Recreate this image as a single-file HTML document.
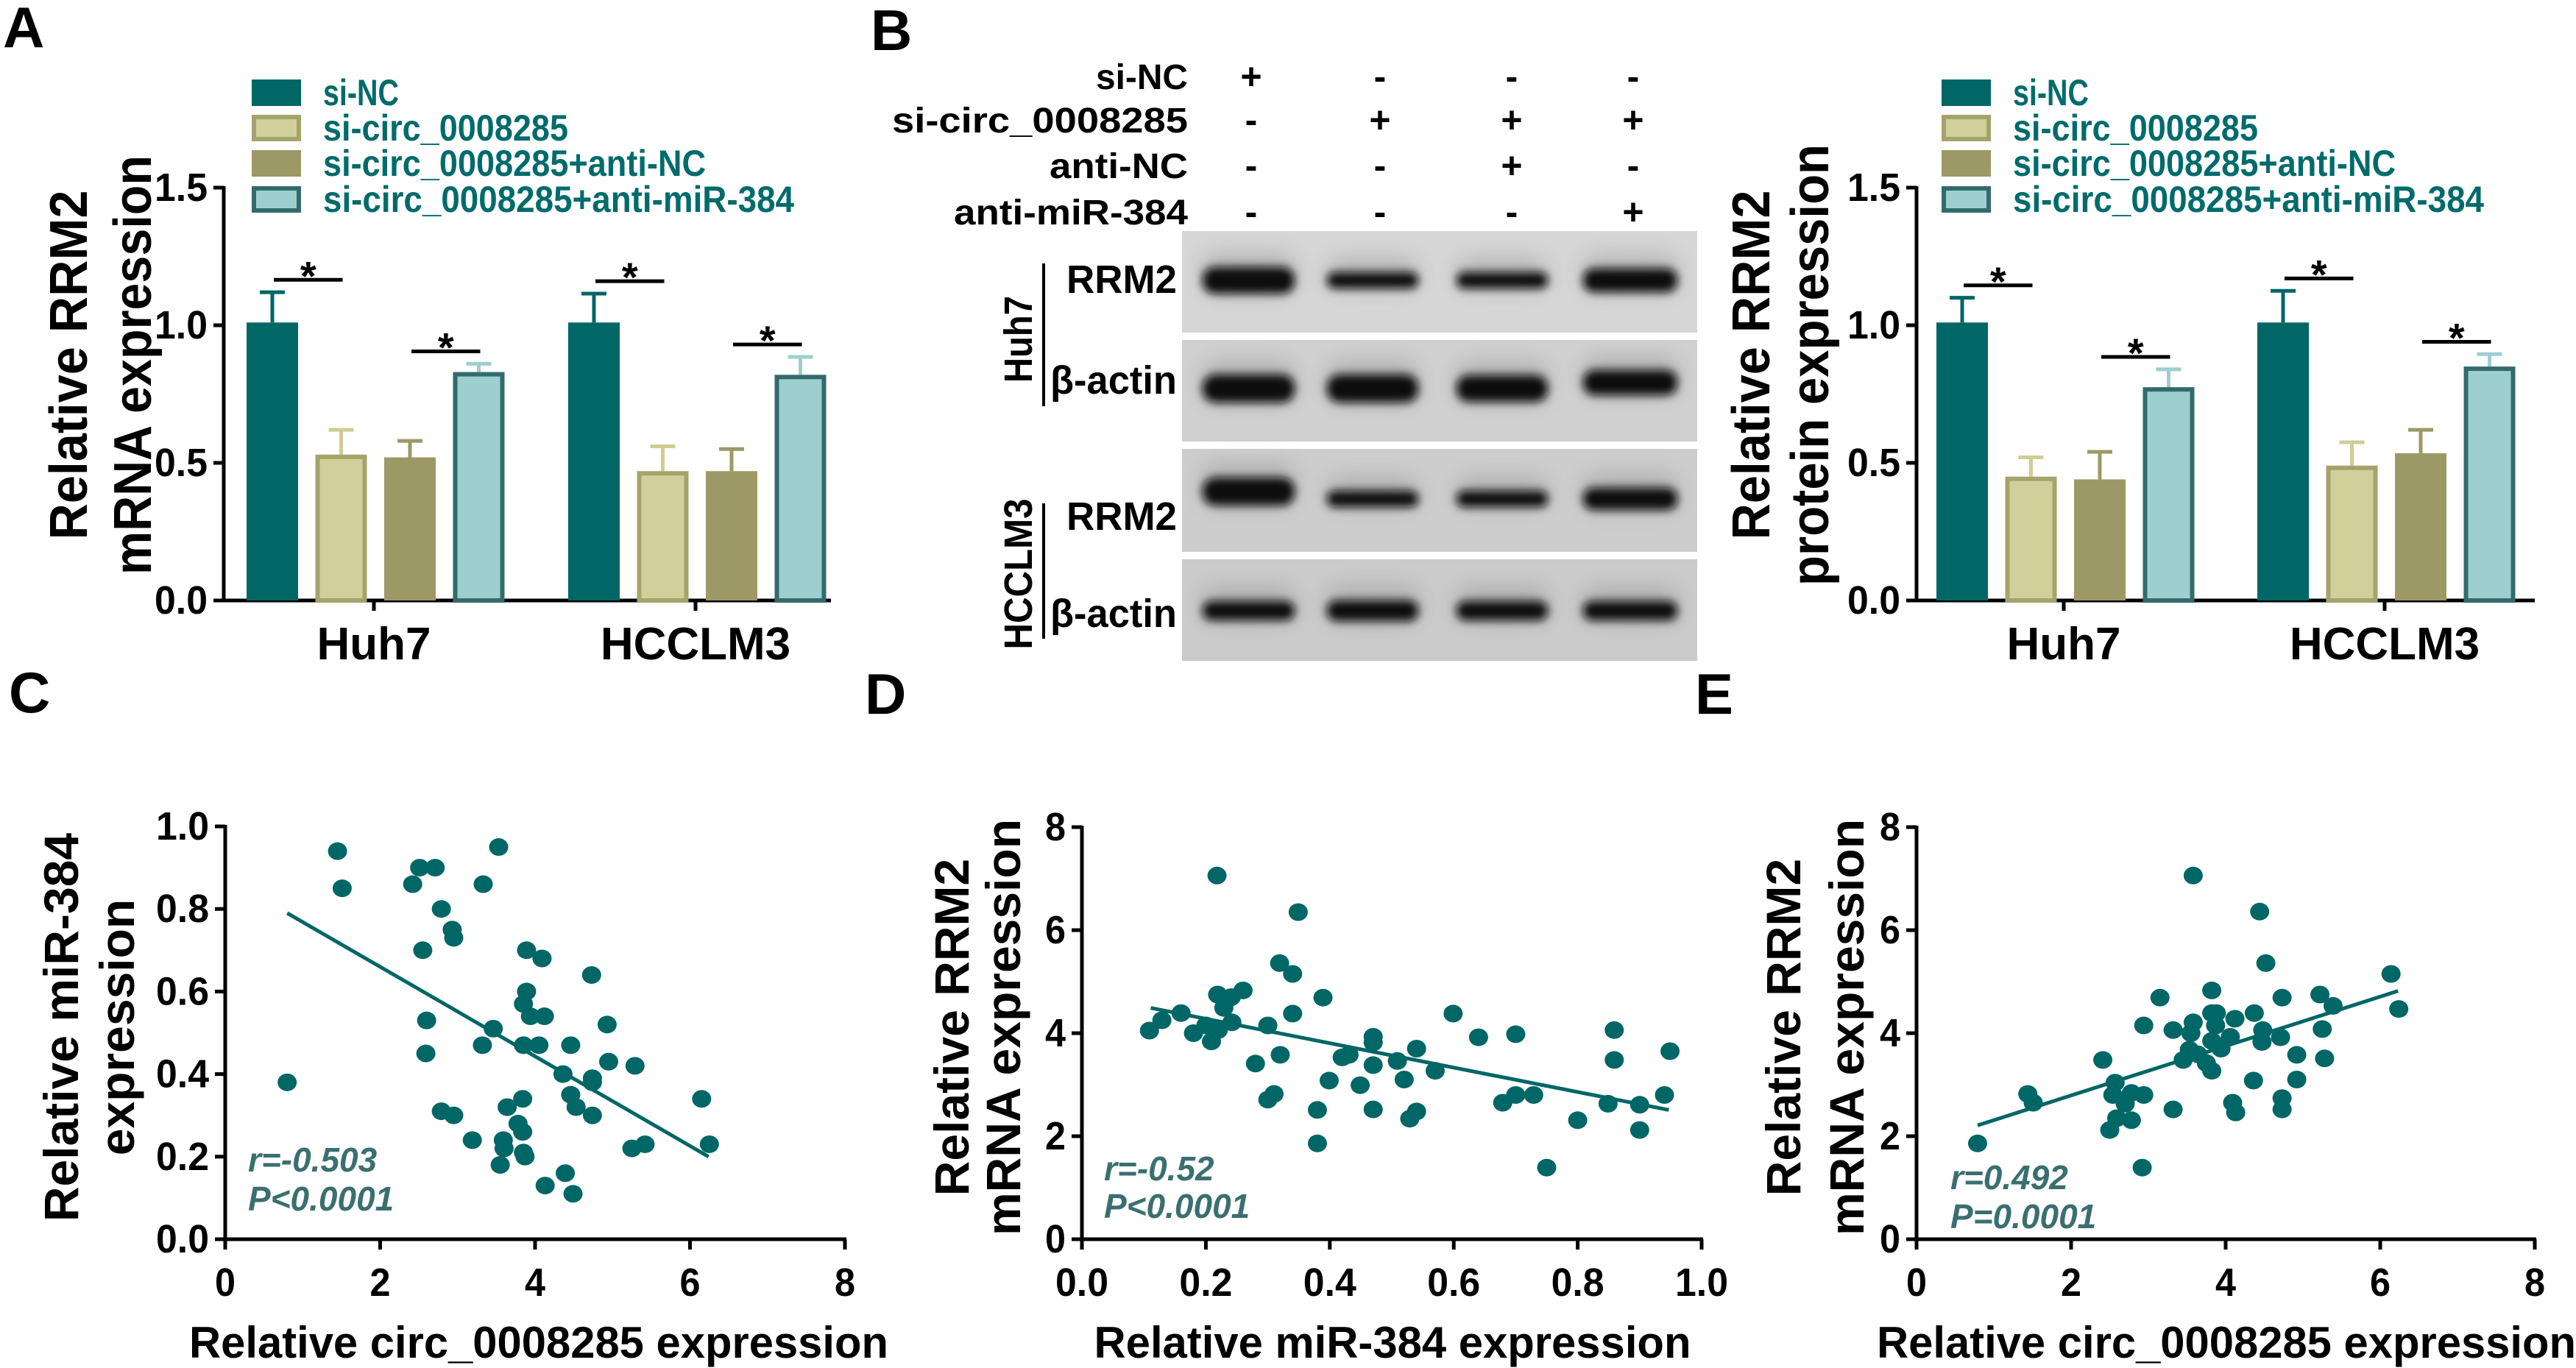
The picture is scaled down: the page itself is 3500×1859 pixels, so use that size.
<!DOCTYPE html>
<html><head><meta charset="utf-8"><style>
html,body{margin:0;padding:0;background:#fff;}
svg{display:block;font-family:"Liberation Sans",Arial,sans-serif;font-weight:bold;}
</style></head><body>
<svg id="fig" width="3500" height="1859" viewBox="0 0 3500 1859" xmlns="http://www.w3.org/2000/svg">
<defs>
<filter id="blur" x="-20%" y="-60%" width="140%" height="220%"><feGaussianBlur stdDeviation="6"/></filter>
<filter id="blur2" x="-20%" y="-100%" width="140%" height="300%"><feGaussianBlur stdDeviation="14"/></filter>
</defs>
<g id="panelA"></g>
<g id="panelB"></g>
<g id="panelB2"></g>
<g id="panelC"></g>
<g id="panelD"></g>
<g id="panelE"></g>
</svg>
<script>
// ---- bar chart data ----
const barCats = ['Huh7', 'HCCLM3'];
const seriesNames = ['si-NC', 'si-circ_0008285', 'si-circ_0008285+anti-NC', 'si-circ_0008285+anti-miR-384'];
const mrnaHuh7 = [1.01, 0.53, 0.52, 0.83];
const mrnaHCCLM3 = [1.01, 0.47, 0.47, 0.82];
const mrnaErrHuh7 = [0.11, 0.09, 0.06, 0.03];
const mrnaErrHCCLM3 = [0.105, 0.09, 0.08, 0.065];
const protHuh7 = [1.01, 0.45, 0.44, 0.775];
const protHCCLM3 = [1.01, 0.49, 0.535, 0.85];
const protErrHuh7 = [0.09, 0.07, 0.10, 0.065];
const protErrHCCLM3 = [0.115, 0.085, 0.085, 0.045];
const barTicks = [0, 0.5, 1.0, 1.5];
const barTickLabels = ['0.0', '0.5', '1.0', '1.5'];

// ---- scatter C: circ_0008285 vs miR-384 ----
const cX = [1.45,1.51,0.8,2.42,2.51,2.71,2.79,2.93,2.95,2.55,2.6,2.59,2.79,2.95,3.19,3.33,3.53,3.46,3.32,3.64,3.84,3.59,3.6,3.55,3.78,3.84,3.85,3.87,3.85,3.89,3.94,3.89,4.09,4.12,3.85,4.05,4.36,4.46,4.53,4.39,4.13,4.49,4.46,4.73,4.74,4.74,4.74,4.93,4.95,5.29,5.25,5.42,6.15,6.25];
const cY = [0.94,0.85,0.38,0.86,0.90,0.90,0.80,0.75,0.73,0.70,0.53,0.45,0.31,0.30,0.24,0.86,0.95,0.51,0.47,0.32,0.34,0.24,0.22,0.18,0.28,0.26,0.21,0.20,0.57,0.60,0.54,0.70,0.68,0.54,0.47,0.47,0.40,0.35,0.32,0.16,0.13,0.11,0.47,0.64,0.39,0.38,0.30,0.52,0.43,0.42,0.22,0.23,0.34,0.23];
const cFitX = [0.8, 6.24];
const cFitY = [0.79, 0.20];
const cXTicks = [0, 2, 4, 6, 8];
const cYTicks = [0, 0.2, 0.4, 0.6, 0.8, 1.0];
const cYTickLabels = ['0.0','0.2','0.4','0.6','0.8','1.0'];

// ---- scatter D: miR-384 vs RRM2 ----
const dX = [0.109,0.129,0.16,0.18,0.2,0.209,0.22,0.218,0.219,0.229,0.231,0.241,0.242,0.26,0.28,0.30,0.30,0.31,0.32,0.319,0.34,0.34,0.349,0.38,0.38,0.389,0.399,0.42,0.431,0.449,0.47,0.47,0.47,0.47,0.509,0.52,0.529,0.54,0.54,0.57,0.599,0.64,0.679,0.70,0.70,0.729,0.75,0.80,0.849,0.859,0.859,0.90,0.90,0.94,0.949];
const dY = [4.05,4.25,4.39,4.0,4.15,3.84,4.06,7.06,4.75,4.49,4.6,4.7,4.21,4.83,3.41,4.15,2.71,2.82,3.58,5.36,5.15,4.38,6.35,2.51,1.86,4.69,3.08,3.53,3.58,2.99,3.93,3.82,3.38,2.52,3.46,3.10,2.34,2.48,3.70,3.27,4.38,3.92,2.65,2.80,3.98,2.80,1.39,2.31,2.63,4.06,3.48,2.61,2.12,2.80,3.65];
const dFitX = [0.111, 0.947];
const dFitY = [4.49, 2.51];
const dXTicks = [0, 0.2, 0.4, 0.6, 0.8, 1.0];
const dXTickLabels = ['0.0','0.2','0.4','0.6','0.8','1.0'];
const dYTicks = [0, 2, 4, 6, 8];

// ---- scatter E: circ_0008285 vs RRM2 ----
const eX = [0.79,1.44,1.51,2.41,2.57,2.54,2.5,2.59,2.7,2.78,2.78,2.94,2.92,2.94,3.15,3.32,3.32,3.45,3.53,3.55,3.58,3.58,3.64,3.75,3.82,3.82,3.87,3.82,3.82,3.88,3.94,4.06,4.09,4.12,4.13,4.36,4.37,4.44,4.48,4.47,4.52,4.71,4.73,4.73,4.73,4.92,4.92,5.22,5.25,5.28,5.39,6.14,6.24];
const eY = [1.86,2.82,2.65,3.48,3.04,2.80,2.12,2.35,2.63,2.84,2.31,2.80,1.39,4.15,4.69,4.06,2.52,3.48,3.68,4.0,4.21,7.06,3.59,3.42,4.83,4.39,4.15,3.85,3.27,4.39,3.70,3.93,2.65,4.28,2.46,3.08,4.39,6.36,4.06,3.83,5.36,3.92,4.69,2.74,2.52,3.58,3.10,4.75,4.08,3.51,4.53,5.15,4.47];
const eFitX = [0.79, 6.23];
const eFitY = [2.21, 4.82];
const eXTicks = [0, 2, 4, 6, 8];
const eYTicks = [0, 2, 4, 6, 8];

const NS = 'http://www.w3.org/2000/svg';
const TEAL = '#006666';
function el(tag, attrs, parent) {
  const e = document.createElementNS(NS, tag);
  for (const k in attrs) e.setAttribute(k, attrs[k]);
  parent.appendChild(e);
  return e;
}
function txt(str, attrs, parent) {
  const t = el('text', attrs, parent);
  t.textContent = str;
  return t;
}

const fillCols = [TEAL, '#d1d09b', '#9c9966', '#9ecfcf'];
const strokeCols = [TEAL, '#a5a36a', '#9c9966', '#336b6b'];
const errCols = [TEAL, '#cfcd95', '#9c9966', '#9ecfcf'];

function barChart(g, o, vals, errs) {
  const sy = v => o.y0 - v / 1.5 * (o.y0 - o.yTop);
  seriesNames.forEach((n, i) => {
    const cy = o.legY[i];
    const r = el('rect', {x: o.legX + 3, y: cy - 15, width: 61, height: 30, fill: fillCols[i], stroke: strokeCols[i], 'stroke-width': i === 0 || i === 2 ? 0 : 6}, g);
    if (i === 0 || i === 2) { r.setAttribute('x', o.legX); r.setAttribute('y', cy - 18); r.setAttribute('width', 67); r.setAttribute('height', 36); }
    
    
    const t = txt(n, {x: o.legX + 97, y: cy + 17, 'font-size': 50, fill: '#006b6b', textLength: [103, 333, 520, 640][i], lengthAdjust: 'spacingAndGlyphs'}, g);
    
    
  });
  const ya = el('line', {x1: o.axX, y1: o.yTop - 2, x2: o.axX, y2: o.y0 + 2, stroke: '#000', 'stroke-width': 5}, g);
  
  
  const xa = el('line', {x1: o.xStart, y1: o.y0, x2: o.xEnd, y2: o.y0, stroke: '#000', 'stroke-width': 5}, g);
  
  
  barTicks.forEach((v, i) => {
    el('line', {x1: o.axX - 14, y1: sy(v), x2: o.axX, y2: sy(v), stroke: '#000', 'stroke-width': 5}, g);
    const t = txt(barTickLabels[i], {x: o.axX - 22, y: sy(v) + 18, 'font-size': 54, 'text-anchor': 'end', textLength: 72, lengthAdjust: 'spacingAndGlyphs'}, g);
    
    
  });
  barCats.forEach((c, gi) => {
    const tx = o.ticks[gi];
    el('line', {x1: tx, y1: o.y0, x2: tx, y2: o.y0 + 14, stroke: '#000', 'stroke-width': 5}, g);
    const ct = txt(c, {x: tx, y: 896, 'font-size': 62, 'text-anchor': 'middle'}, g);
    
    
    const centers = [];
    vals[gi].forEach((v, i) => {
      const bx = tx - 173 + i * 93.5;
      const w = 70;
      centers.push(bx + w / 2);
      const top = sy(v), etop = sy(v + errs[gi][i]);
      const ec = errCols[i];
      const eb = el('line', {x1: bx + w / 2, y1: top, x2: bx + w / 2, y2: etop, stroke: ec, 'stroke-width': 5}, g);
      
      
      el('line', {x1: bx + w / 2 - 17, y1: etop, x2: bx + w / 2 + 17, y2: etop, stroke: ec, 'stroke-width': 5}, g);
      const sw = (i === 1 || i === 3) ? 6 : 0;
      const b = el('rect', {x: bx + sw / 2, y: top + sw / 2, width: w - sw, height: o.y0 - top - sw / 2, fill: fillCols[i], stroke: strokeCols[i], 'stroke-width': sw}, g);
      
      
    });
    [[0, 1], [2, 3]].forEach(([a, bb]) => {
      const m = Math.max(vals[gi][a] + errs[gi][a], vals[gi][bb] + errs[gi][bb]) + 0.045;
      const yy = sy(m);
      const sl = el('line', {x1: centers[a] + 2, y1: yy, x2: centers[bb] + 2, y2: yy, stroke: '#000', 'stroke-width': 5}, g);
      
      
      const st = txt('*', {x: (centers[a] + centers[bb]) / 2 + 2, y: yy + 14, 'font-size': 56, 'text-anchor': 'middle'}, g);
      
      
    });
  });
  const yt1 = txt(o.yt[0], {x: 0, y: 0, 'font-size': 72, 'text-anchor': 'middle', transform: `translate(${o.ytX[0]},496) rotate(-90)`, textLength: 475, lengthAdjust: 'spacingAndGlyphs'}, g);
  
  
  const yt2 = txt(o.yt[1], {x: 0, y: 0, 'font-size': 72, 'text-anchor': 'middle', transform: `translate(${o.ytX[1]},496) rotate(-90)`, textLength: o.yt2Len, lengthAdjust: 'spacingAndGlyphs'}, g);
  
  
}

barChart(document.getElementById('panelA'), {axX: 304, y0: 816, yTop: 255, xStart: 293, xEnd: 1129, ticks: [508, 945], legX: 342, legY: [126, 174, 222, 271], yt: ['Relative RRM2', 'mRNA expression'], yt2Len: 570, ytX: [118, 205]}, [mrnaHuh7, mrnaHCCLM3], [mrnaErrHuh7, mrnaErrHCCLM3]);
barChart(document.getElementById('panelB2'), {axX: 2604, y0: 816, yTop: 255, xStart: 2591, xEnd: 3444, ticks: [2804, 3240], legX: 2638, legY: [126, 174, 222, 271], yt: ['Relative RRM2', 'protein expression'], yt2Len: 600, ytX: [2404, 2484]}, [protHuh7, protHCCLM3], [protErrHuh7, protErrHCCLM3]);

[['A', 4, 64], ['B', 1183, 68], ['C', 12, 968], ['D', 1175, 970], ['E', 2303, 970]].forEach(([L, x, y]) => {
  const t = txt(L, {x: x, y: y, 'font-size': 78}, document.getElementById('fig'));
  
  
});

// ---- western blot ----
(function () {
  const g = document.getElementById('panelB');
  const lanes = [1700, 1875, 2054, 2219];
  const rows = [['si-NC', 104, ['+', '-', '-', '-'], 125], ['si-circ_0008285', 163, ['-', '+', '+', '+'], 402], ['anti-NC', 225, ['-', '-', '+', '-'], 188], ['anti-miR-384', 288, ['-', '-', '-', '+'], 318]];
  rows.forEach(([lab, y, signs, len]) => {
    const t = txt(lab, {x: 1614, y: y + 17, 'font-size': 48, 'text-anchor': 'end', textLength: len, lengthAdjust: 'spacingAndGlyphs'}, g);
    
    
    signs.forEach((s, i) => {
      const st = txt(s, {x: lanes[i], y: y + 17, 'font-size': 50, 'text-anchor': 'middle'}, g);
      
      
    });
  });
  const panels = [[314, 452, '#d6d6d6'], [462, 600, '#d0d0d0'], [610, 750, '#cdcdcd'], [760, 898, '#cacaca']];
  panels.forEach(([y1, y2, c], pi) => {
    const r = el('rect', {x: 1606, y: y1, width: 700, height: y2 - y1, fill: c}, g);
    
    
  });
  const bandX = [[1634, 1759], [1803, 1927], [1979, 2103], [2151, 2279]];
  const bands = [
    [381, [36, 22, 22, 32]],
    [528, [38, 38, 36, 34]],
    [678, [38, 22, 22, 30]],
    [830, [26, 28, 26, 26]]
  ];
  bands.forEach(([cy, hs], bi) => {
    hs.forEach((h, li) => {
      const [a, b] = bandX[li];
      let yy = cy + (bi === 2 && li === 0 ? -10 : 0) + (bi === 1 && li === 3 ? -8 : 0);
      el('rect', {x: a, y: yy - h / 2 - 18, width: b - a, height: h + 18, rx: 20, fill: '#888', opacity: 0.45, filter: 'url(#blur2)'}, g);
      const band = el('rect', {x: a, y: yy - h / 2, width: b - a, height: h, rx: h / 2.2, fill: '#0a0a0a', filter: 'url(#blur)'}, g);
      
      
    });
  });
  [['RRM2', 379 + 19, 150], ['β-actin', 516 + 19, 172], ['RRM2', 701 + 19, 150], ['β-actin', 833 + 19, 172]].forEach(([l, y, len]) => {
    const t = txt(l, {x: 1599, y: y, 'font-size': 54, 'text-anchor': 'end', textLength: len, lengthAdjust: 'spacingAndGlyphs'}, g);
    
    
  });
  el('line', {x1: 1418, y1: 358, x2: 1418, y2: 552, stroke: '#000', 'stroke-width': 4}, g);
  el('line', {x1: 1418, y1: 684, x2: 1418, y2: 868, stroke: '#000', 'stroke-width': 4}, g);
  const h1 = txt('Huh7', {x: 0, y: 0, 'font-size': 54, 'text-anchor': 'middle', transform: 'translate(1402,461) rotate(-90)', textLength: 118, lengthAdjust: 'spacingAndGlyphs'}, g);
  
  
  const h2 = txt('HCCLM3', {x: 0, y: 0, 'font-size': 54, 'text-anchor': 'middle', transform: 'translate(1402,780) rotate(-90)', textLength: 205, lengthAdjust: 'spacingAndGlyphs'}, g);
  
  
})();

// ---- scatter plots ----
function scatter(g, o) {
  const sx = v => o.x0 + (v - o.xmin) / (o.xmax - o.xmin) * (o.x1 - o.x0);
  const sy = v => o.y0 - v / o.ymax * (o.y0 - o.y1);
  const ya = el('line', {x1: o.x0, y1: o.y1 - 2, x2: o.x0, y2: o.y0 + 2, stroke: '#000', 'stroke-width': 5}, g);
  
  
  const xa = el('line', {x1: o.x0 - 2, y1: o.y0, x2: o.x1 + 2, y2: o.y0, stroke: '#000', 'stroke-width': 5}, g);
  
  
  o.yTicks.forEach((v, i) => {
    el('line', {x1: o.x0 - 14, y1: sy(v), x2: o.x0, y2: sy(v), stroke: '#000', 'stroke-width': 5}, g);
    const lab = o.yLabels ? o.yLabels[i] : String(v);
    const t = txt(lab, {x: o.x0 - 22, y: sy(v) + 18, 'font-size': 54, 'text-anchor': 'end', textLength: lab.length > 1 ? 72 : 28, lengthAdjust: 'spacingAndGlyphs'}, g);
    
    
  });
  o.xTicks.forEach((v, i) => {
    el('line', {x1: sx(v), y1: o.y0, x2: sx(v), y2: o.y0 + 14, stroke: '#000', 'stroke-width': 5}, g);
    const lab = o.xLabels ? o.xLabels[i] : String(v);
    const t = txt(lab, {x: sx(v), y: 1761, 'font-size': 54, 'text-anchor': 'middle', textLength: lab.length > 1 ? 72 : 28, lengthAdjust: 'spacingAndGlyphs'}, g);
    
    
  });
  o.xs.forEach((x, i) => {
    const c = el('ellipse', {cx: sx(x), cy: sy(o.ys[i]), rx: 13, ry: 12, fill: TEAL}, g);
    
    
  });
  const fl = el('line', {x1: sx(o.fx[0]), y1: sy(o.fy[0]), x2: sx(o.fx[1]), y2: sy(o.fy[1]), stroke: TEAL, 'stroke-width': 5}, g);
  
  
  const a1 = txt(o.ann[0], {x: o.annX, y: o.annY[0] + 16, 'font-size': 46, 'font-style': 'italic', fill: '#3b6f6f'}, g);
  
  
  const a2 = txt(o.ann[1], {x: o.annX, y: o.annY[1] + 16, 'font-size': 46, 'font-style': 'italic', fill: '#3b6f6f'}, g);
  
  
  const xt = txt(o.xt, {x: o.xtX, y: 1845, 'font-size': 60, 'text-anchor': 'middle', textLength: o.xtLen, lengthAdjust: 'spacingAndGlyphs'}, g);
  
  
  const yt1 = txt(o.yt[0], {x: 0, y: 0, 'font-size': 66, 'text-anchor': 'middle', transform: `translate(${o.ytX[0]},1396) rotate(-90)`}, g);
  
  
  const yt2 = txt(o.yt[1], {x: 0, y: 0, 'font-size': 66, 'text-anchor': 'middle', transform: `translate(${o.ytX[1]},1396) rotate(-90)`}, g);
  
  
}

scatter(document.getElementById('panelC'), {x0: 306, x1: 1148, y0: 1684, y1: 1123, xmin: 0, xmax: 8, ymax: 1.0, xs: cX, ys: cY, fx: cFitX, fy: cFitY, xTicks: cXTicks, yTicks: cYTicks, yLabels: cYTickLabels, ann: ['r=-0.503', 'P<0.0001'], annX: 337, annY: [1576, 1629], xt: 'Relative circ_0008285 expression', xtX: 732, xtLen: 950, yt: ['Relative miR-384', 'expression'], ytX: [106, 182]});
scatter(document.getElementById('panelD'), {x0: 1470, x1: 2312, y0: 1684, y1: 1124, xmin: 0, xmax: 1.0, ymax: 8, xs: dX, ys: dY, fx: dFitX, fy: dFitY, xTicks: dXTicks, xLabels: dXTickLabels, yTicks: dYTicks, ann: ['r=-0.52', 'P<0.0001'], annX: 1500, annY: [1588, 1639], xt: 'Relative miR-384 expression', xtX: 1892, xtLen: 811, yt: ['Relative RRM2', 'mRNA expression'], ytX: [1316, 1386]});
scatter(document.getElementById('panelE'), {x0: 2604, x1: 3444, y0: 1684, y1: 1124, xmin: 0, xmax: 8, ymax: 8, xs: eX, ys: eY, fx: eFitX, fy: eFitY, xTicks: eXTicks, yTicks: eYTicks, ann: ['r=0.492', 'P=0.0001'], annX: 2650, annY: [1600, 1653], xt: 'Relative circ_0008285 expression', xtX: 3025, xtLen: 950, yt: ['Relative RRM2', 'mRNA expression'], ytX: [2446, 2532]});
</script>
</body></html>
